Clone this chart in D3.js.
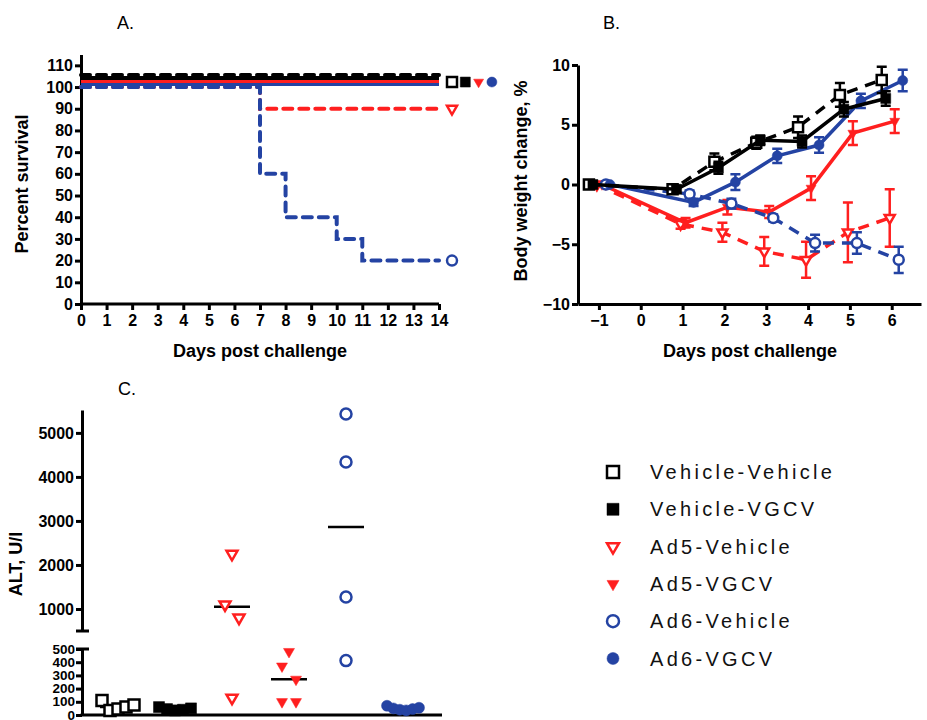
<!DOCTYPE html>
<html><head><meta charset="utf-8">
<script src="https://cdn.jsdelivr.net/npm/d3@7"></script>
<style>
body{margin:0;background:#fff}
svg{display:block}
text{font-family:"Liberation Sans",Arial,Helvetica,sans-serif}
</style>
</head><body>
<svg id="chart" width="927" height="720"></svg>
<script>
// ---------------- DATA ----------------
const groups = ["Vehicle-Vehicle","Vehicle-VGCV","Ad5-Vehicle","Ad5-VGCV","Ad6-Vehicle","Ad6-VGCV"];

// Panel A: Kaplan-Meier steps [day, percent survival]
const survVV      = [[0,100],[14,100]];
const survVVGCV   = [[0,100],[14,100]];
const survAd5V    = [[0,100],[7,90],[14,90]];
const survAd5VGCV = [[0,100],[14,100]];
const survAd6V    = [[0,100],[7,60],[8,40],[10,30],[11,20],[14,20]];
const survAd6VGCV = [[0,100],[14,100]];
const survTicksY = [0,10,20,30,40,50,60,70,80,90,100,110];
const survTicksX = [0,1,2,3,4,5,6,7,8,9,10,11,12,13,14];

// Panel B: body weight change (%), mean and SEM
const weightDays   = [-1,1,2,3,4,5,6];
const wtVV         = [0,-0.4,1.9,3.5,4.8,7.5,8.75];
const wtVVGCV      = [0,-0.4,1.4,3.7,3.6,6.3,7.2];
const wtAd5V       = [0,-3.3,-4.0,-5.6,-6.3,-4.0,-2.8];
const wtAd5VGCV    = [0,-3.2,-1.9,-2.3,-0.3,4.3,5.3];
const wtAd6V       = [0,-0.8,-1.6,-2.8,-4.9,-4.9,-6.3];
const wtAd6VGCV    = [0,-1.5,0.2,2.4,3.3,7.0,8.7];
const semVV        = [0,0.3,0.7,0.5,0.9,1.0,1.1];
const semVVGCV     = [0,0.3,0.5,0.4,0.5,0.6,0.6];
const semAd5V      = [0,0.4,0.8,1.2,1.5,2.5,2.4];
const semAd5VGCV   = [0,0.4,0.6,0.5,1.0,1.0,1.0];
const semAd6V      = [0,0.3,0.4,0.3,0.7,0.9,1.1];
const semAd6VGCV   = [0,0.3,0.65,0.6,0.65,0.6,0.9];
const weightTicksY = [-10,-5,0,5,10];
const weightTicksX = [-1,0,1,2,3,4,5,6];

// Panel C: ALT (U/l), individual animals and medians
const altVV      = [110,35,45,60,75];
const altVVGCV   = [60,45,35,40,50];
const altAd5V    = [2250,1100,800,130];
const altAd5VGCV = [480,370,270,100,100];
const altAd6V    = [5430,4340,1270,412];
const altAd6VGCV = [70,50,40,35,45,55];
const altMedians = [60,45,1050,270,2860,45];
const altTicksLow  = [0,100,200,300,400,500];
const altTicksHigh = [1000,2000,3000,4000,5000];

// ---------------- STYLE ----------------
const RED = "#ff1f1f", BLUE = "#2443a3", BLACK = "#000";
const styles = [
  {color:BLACK, fill:false, sym:"square",   dash:true},
  {color:BLACK, fill:true,  sym:"square",   dash:false},
  {color:RED,   fill:false, sym:"triangle", dash:true},
  {color:RED,   fill:true,  sym:"triangle", dash:false},
  {color:BLUE,  fill:false, sym:"circle",   dash:true},
  {color:BLUE,  fill:true,  sym:"circle",   dash:false}
];

const svg = d3.select("#chart");

function symPath(type, w){
  if(type==="square") return d3.symbol(d3.symbolSquare, w*w)();
  if(type==="circle") return d3.symbol(d3.symbolCircle, Math.PI*w*w/4)();
  return d3.symbol(d3.symbolTriangle, Math.sqrt(3)/4*w*w)();
}
function marker(g, st, x, y, w, sw){
  return g.append("path").attr("d", symPath(st.sym, w))
    .attr("transform", `translate(${x},${y})` + (st.sym==="triangle" ? " rotate(180)" : ""))
    .attr("fill", st.fill ? st.color : "#fff")
    .attr("stroke", st.color).attr("stroke-width", st.fill ? 0.5 : (sw||2.5));
}
function styleAxis(g, fs){
  g.select(".domain").attr("stroke","#000").attr("stroke-width",3);
  g.selectAll(".tick line").attr("stroke","#000").attr("stroke-width",3);
  g.selectAll(".tick text").attr("fill","#000").attr("font-weight","bold").attr("font-size",fs||16)
    .attr("font-family",'"Liberation Sans",Arial,sans-serif');
}
function title(x,y,txt,rot,size,weight){
  svg.append("text").attr("x",x).attr("y",y).text(txt)
    .attr("text-anchor", rot||rot===0 ? "middle" : "start")
    .attr("transform", rot ? `rotate(${rot},${x},${y})` : null)
    .attr("font-size", size).attr("font-weight", weight||"normal").attr("fill","#000");
}

// ---------------- PANEL A ----------------
const xA = d3.scaleLinear([0,14],[81,439]);
const yA = d3.scaleLinear([0,115],[304,54.5]);
const gA = svg.append("g");
const axAy = gA.append("g").attr("transform",`translate(${xA(0)},0)`)
  .call(d3.axisLeft(yA).tickValues(survTicksY).tickSize(6).tickSizeOuter(0).tickPadding(2));
styleAxis(axAy);
const axAx = gA.append("g").attr("transform",`translate(0,${yA(0)})`)
  .call(d3.axisBottom(xA).tickValues(survTicksX).tickSize(6).tickSizeOuter(0).tickPadding(5));
styleAxis(axAx);
axAx.select(".domain").attr("d",`M${xA(0)},0H${xA(14)}`);

const survSets = [survVV,survVVGCV,survAd5V,survAd5VGCV,survAd6V,survAd6VGCV];
const survOffset = [-12,-9,0,-6,0,-3]; // pixel separation of overlapping 100% curves
const survOrder = [2,4,5,3,1,0];
survOrder.forEach(i=>{
  const st = styles[i], off = survOffset[i];
  const line = d3.line().x(d=>xA(d[0])).y(d=>yA(d[1]) + (d[1]===100 ? off : 0)).curve(d3.curveStepAfter);
  gA.append("path").attr("d", line(survSets[i])).attr("fill","none")
    .attr("stroke", st.color).attr("stroke-width", 4)
    .attr("stroke-dasharray", st.dash ? "9,7" : null)
    .attr("stroke-linecap", st.dash ? "round" : "butt");
});
// end-of-curve symbols
let stackK = 0;
survSets.forEach((s,i)=>{
  const last = s[s.length-1];
  let x, y;
  if(last[1]===100){ x = xA(14)+13+stackK*13.3; y = yA(100)-5; stackK++; }
  else { x = xA(14)+13; y = yA(last[1]); }
  marker(gA, styles[i], x, y, 10, 2.5);
});
title(117,29,"A.",null,18);
title(28,184,"Percent survival",-90,18,"bold");
title(260,357,"Days post challenge",0,18,"bold");

// ---------------- PANEL B ----------------
const xB = d3.scaleLinear([-1.5,6.7],[578,921]);
const yB = d3.scaleLinear([-10,10],[304,65]);
const gB = svg.append("g");
const axBy = gB.append("g").attr("transform",`translate(${xB(-1.5)},0)`)
  .call(d3.axisLeft(yB).tickValues(weightTicksY).tickSize(6).tickSizeOuter(0).tickPadding(2));
styleAxis(axBy);
const axBx = gB.append("g").attr("transform",`translate(0,${yB(-10)})`)
  .call(d3.axisBottom(xB).tickValues(weightTicksX).tickSize(6).tickSizeOuter(0).tickPadding(5));
styleAxis(axBx);

const wtSets = [wtVV,wtVVGCV,wtAd5V,wtAd5VGCV,wtAd6V,wtAd6VGCV];
const semSets = [semVV,semVVGCV,semAd5V,semAd5VGCV,semAd6V,semAd6VGCV];
const dodge = [-10,-6,-2,3,7,11];
const wtOrder = [2,3,4,5,0,1];
wtOrder.forEach(i=>{
  const st = styles[i];
  const pts = weightDays.map((d,k)=>({x:xB(d)+dodge[i], y:wtSets[i][k], e:semSets[i][k]}));
  const line = d3.line().x(d=>d.x).y(d=>yB(d.y));
  gB.append("path").attr("d", line(pts)).attr("fill","none")
    .attr("stroke", st.color).attr("stroke-width", 3.5)
    .attr("stroke-dasharray", st.dash ? "11,8" : null);
  pts.forEach(p=>{
    if(p.e>0){
      gB.append("path").attr("d",
        `M${p.x},${yB(p.y+p.e)}V${yB(p.y-p.e)}M${p.x-5},${yB(p.y+p.e)}H${p.x+5}M${p.x-5},${yB(p.y-p.e)}H${p.x+5}`)
        .attr("stroke", st.color).attr("stroke-width",2.5).attr("fill","none");
    }
    marker(gB, st, p.x, yB(p.y), 10, 2.5);
  });
});
title(603,29,"B.",null,18);
title(527,181,"Body weight change, %",-90,18,"bold");
title(750,357,"Days post challenge",0,18,"bold");

// ---------------- PANEL C ----------------
const xC = d3.scalePoint(groups,[118,403]);
const yL = d3.scaleLinear([0,500],[715,649]);
const yU = d3.scaleLinear([500,5520],[631,410]);
const yC = v => v<=500 ? yL(v) : yU(v);
const gC = svg.append("g");
const axCl = gC.append("g").attr("transform","translate(82,0)")
  .call(d3.axisLeft(yL).tickValues(altTicksLow).tickSize(6).tickSizeOuter(0).tickPadding(1).tickFormat(d3.format("d")));
styleAxis(axCl,13.5);
axCl.selectAll(".tick text").attr("dy","0.3em");
const axCu = gC.append("g").attr("transform","translate(82,0)")
  .call(d3.axisLeft(yU).tickValues(altTicksHigh).tickSize(6).tickSizeOuter(0).tickPadding(2).tickFormat(d3.format("d")));
styleAxis(axCu,16);
// break caps
[yU(500), yL(500)].forEach(y=>{
  gC.append("line").attr("x1",76).attr("x2",89).attr("y1",y).attr("y2",y)
    .attr("stroke","#000").attr("stroke-width",3);
});
gC.append("line").attr("x1",80.5).attr("x2",442).attr("y1",yL(0)).attr("y2",yL(0))
  .attr("stroke","#000").attr("stroke-width",3);

const altSets = [altVV,altVVGCV,altAd5V,altAd5VGCV,altAd6V,altAd6VGCV];
altSets.forEach((vals,i)=>{
  const st = styles[i], cx = xC(groups[i]);
  // median line
  gC.append("line").attr("x1",cx-18).attr("x2",cx+18)
    .attr("y1",yC(altMedians[i])).attr("y2",yC(altMedians[i]))
    .attr("stroke","#000").attr("stroke-width",2.5);
  // cluster points whose symbols would overlap vertically, spread each cluster symmetrically
  const pts = vals.map(v=>({v, y:yC(v)}));
  const sorted = pts.slice().sort((a,b)=>a.y-b.y);
  const clusters = [];
  sorted.forEach(p=>{
    const c = clusters[clusters.length-1];
    if(c && p.y - c[0].y < 14) c.push(p); else clusters.push([p]);
  });
  clusters.forEach(c=>{
    const n = c.length;
    const sp = n<=2 ? 14 : 32/(n-1);
    const ordered = pts.filter(p=>c.includes(p));
    ordered.forEach((p,k)=>{ p.x = cx + (k-(n-1)/2)*sp; });
  });
  pts.forEach(p=>marker(gC, st, p.x, p.y, 11, 2.5));
});
title(118,395,"C.",null,18);
title(22,564,"ALT, U/l",-90,18,"bold");

// ---------------- LEGEND ----------------
const gL = svg.append("g");
groups.forEach((g,i)=>{
  const y = 472 + i*37.3;
  marker(gL, styles[i], 613, y, 12, 2.5);
  gL.append("text").attr("x",650).attr("y",y+7).text(g)
    .attr("font-size",20).attr("letter-spacing",3.3).attr("fill","#111");
});
</script>
</body></html>
